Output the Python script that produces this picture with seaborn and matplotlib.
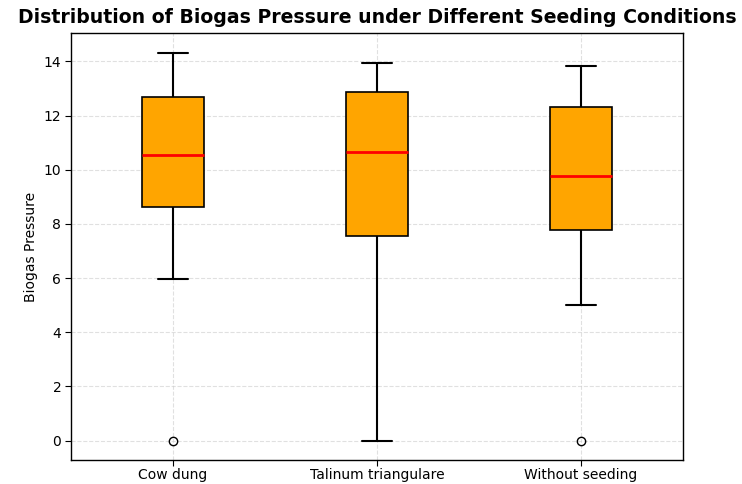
import matplotlib
matplotlib.use("Agg")
import matplotlib.pyplot as plt
import seaborn as sns
import pandas as pd

# Sample values chosen so the quartiles/whiskers match the reference boxes
cow_dung = [0.0, 5.95, 8.63, 9.6, 10.55, 11.6, 12.68, 13.5, 14.33]
talinum = [0.0, 5.0, 7.56, 9.1, 10.65, 11.8, 12.87, 13.4, 13.93]
without_seeding = [0.0, 5.01, 7.78, 8.8, 9.77, 11.0, 12.3, 13.1, 13.84]
categories = ["Cow dung", "Talinum triangulare", "Without seeding"]

df = pd.DataFrame({
    "Condition": [categories[0]] * len(cow_dung)
    + [categories[1]] * len(talinum)
    + [categories[2]] * len(without_seeding),
    "Biogas Pressure": cow_dung + talinum + without_seeding,
})

sns.set_style("white")
plt.rcParams["font.family"] = ["DejaVu Sans"]
plt.rcParams["text.color"] = "black"
plt.rcParams["axes.labelcolor"] = "black"
plt.rcParams["xtick.color"] = "black"
plt.rcParams["ytick.color"] = "black"

fig = plt.figure(figsize=(7.42, 4.84), dpi=100)
ax = fig.add_axes([0.0957, 0.0495, 0.8248, 0.8823])

sns.boxplot(
    data=df, x="Condition", y="Biogas Pressure", order=categories,
    color="orange", width=0.3, linecolor="black", linewidth=1.2,
    medianprops=dict(color="red", linewidth=2),
    flierprops=dict(marker="o", markerfacecolor="none",
                    markeredgecolor="black", markersize=6),
    whiskerprops=dict(color="black", linewidth=1.5),
    capprops=dict(color="black", linewidth=1.5),
    saturation=1, ax=ax,
)
for p in ax.patches:
    p.set_facecolor("orange")

ax.set_xlabel("")
ax.set_ylabel("Biogas Pressure", fontsize=10, color="black")
ax.set_title("Distribution of Biogas Pressure under Different Seeding Conditions",
             fontsize=13.6, fontweight="bold", pad=7, color="black")
ax.grid(True, linestyle="--", color="#cccccc", alpha=0.6)
ax.tick_params(axis="both", labelsize=10, length=4, left=True, bottom=True,
               colors="black", pad=3)
ax.tick_params(axis="x", pad=1.5)
ax.set_yticks([0, 2, 4, 6, 8, 10, 12, 14])
ax.set_ylim(-0.72, 15.05)
for s in ax.spines.values():
    s.set_color("black")
    s.set_linewidth(1)

fig.savefig("out.png", dpi=100)
